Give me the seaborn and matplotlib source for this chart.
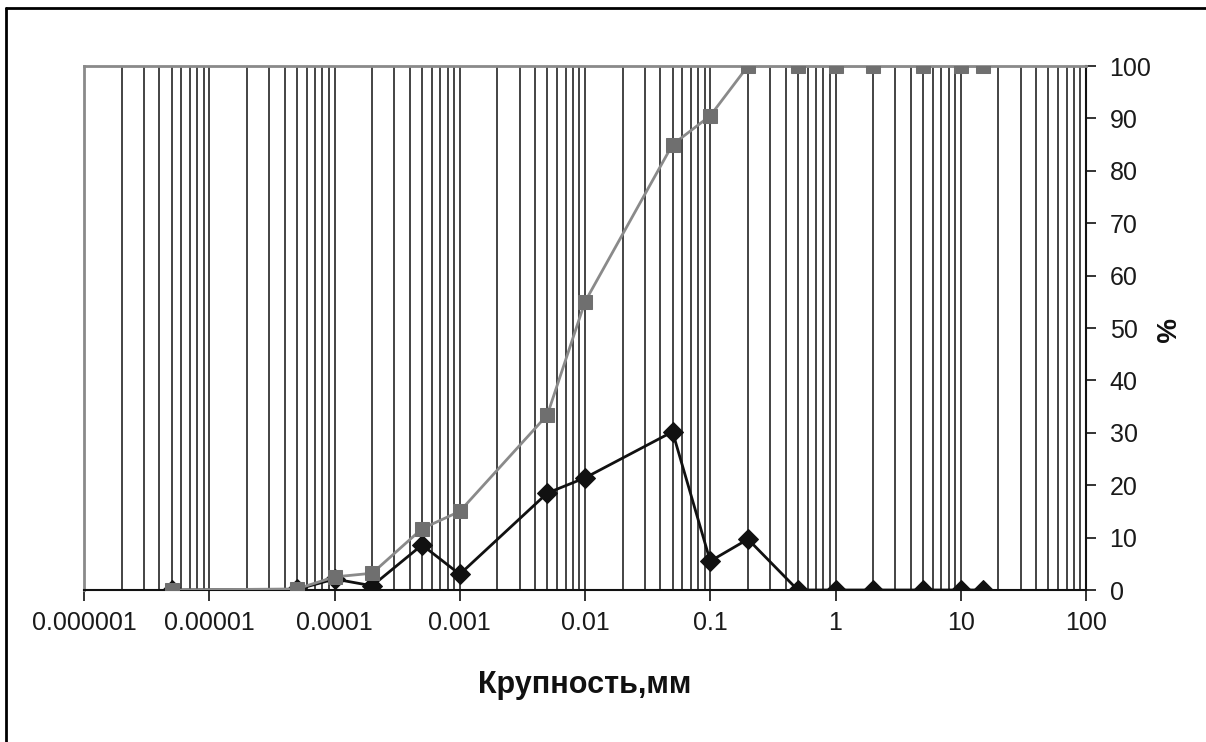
import numpy as np
import pandas as pd
import matplotlib.pyplot as plt
import matplotlib.ticker as mticker
from matplotlib.lines import Line2D
import seaborn as sns

# particle size, mm
size_mm = [0.000005, 0.00005, 0.0001, 0.0002, 0.0005, 0.001, 0.005, 0.01,
           0.05, 0.1, 0.2, 0.5, 1, 2, 5, 10, 15]
# cumulative content, %
cumulative = [0, 0.2, 2.5, 3.2, 11.7, 15, 33.4, 55, 85, 90.5, 100, 100, 100,
              100, 100, 100, 100]
# content of fraction, %
fraction = [0, 0.1, 2.1, 0.8, 8.6, 3.0, 18.5, 21.4, 30.2, 5.5, 9.7, 0, 0, 0,
            0, 0, 0]

x_ticks = [1e-6, 1e-5, 1e-4, 1e-3, 1e-2, 1e-1, 1, 10, 100]
x_tick_labels = ['0.000001', '0.00001', '0.0001', '0.001', '0.01', '0.1',
                 '1', '10', '100']
y_ticks = list(range(0, 101, 10))

df = pd.DataFrame({'size': size_mm, 'cum': cumulative, 'frac': fraction})

sns.set_style('white')
plt.rcParams['font.family'] = ['Liberation Sans', 'DejaVu Sans']

fig = plt.figure(figsize=(12.06, 7.42), dpi=100)
ax = fig.add_axes([84 / 1206, 1 - 590 / 742, (1086 - 84) / 1206, (590 - 66) / 742])

sns.lineplot(data=df, x='size', y='frac', ax=ax, color='#111111', lw=2,
             marker='D', markersize=10, markeredgecolor='#111111', zorder=3)
sns.lineplot(data=df, x='size', y='cum', ax=ax, color='#8a8a8a', lw=2,
             marker='s', markersize=9.5, markerfacecolor='#6f6f6f',
             markeredgecolor='#6f6f6f', zorder=4)

ax.set_xscale('log')
ax.set_xlim(1e-6, 100)
ax.set_ylim(0, 100)

ax.xaxis.set_major_locator(mticker.FixedLocator(x_ticks))
ax.xaxis.set_major_formatter(mticker.FixedFormatter(x_tick_labels))
ax.xaxis.set_minor_locator(mticker.LogLocator(base=10, subs=np.arange(2, 10)))
ax.xaxis.set_minor_formatter(mticker.NullFormatter())
ax.grid(which='both', axis='x', color='#111111', lw=1.1)
ax.grid(which='both', axis='y', visible=False)

ax.yaxis.tick_right()
ax.set_yticks(y_ticks)
ax.tick_params(axis='x', which='major', direction='out', length=8, width=1.2,
               color='#111111', labelsize=18, pad=7, bottom=True,
               labelcolor='#1a1a1a')
ax.tick_params(axis='x', which='minor', length=0)
ax.tick_params(axis='y', which='major', direction='out', length=7, width=1.2,
               color='#111111', labelsize=18, pad=10, right=True, left=False,
               labelcolor='#1a1a1a')

for side in ['left', 'top']:
    ax.spines[side].set_color('#8a8a8a')
    ax.spines[side].set_linewidth(2)
for side in ['bottom', 'right']:
    ax.spines[side].set_color('#111111')
    ax.spines[side].set_linewidth(1.5)

ax.set_xlabel('Крупность,мм', fontsize=22, fontweight='bold', labelpad=25,
              color='#111111')
ax.set_ylabel('')
fig.text(1162 / 1206, 1 - 330 / 742, '%', rotation=270, fontsize=20,
         fontweight='bold', ha='center', va='center', color='#111111')

# outer frame: left and top edges only
fig.add_artist(Line2D([6 / 1206, 6 / 1206], [0, 1 - 8 / 742],
                      transform=fig.transFigure, color='black', lw=2))
fig.add_artist(Line2D([6 / 1206, 1], [1 - 8 / 742, 1 - 8 / 742],
                      transform=fig.transFigure, color='black', lw=2))

fig.savefig('out.png', dpi=100)
